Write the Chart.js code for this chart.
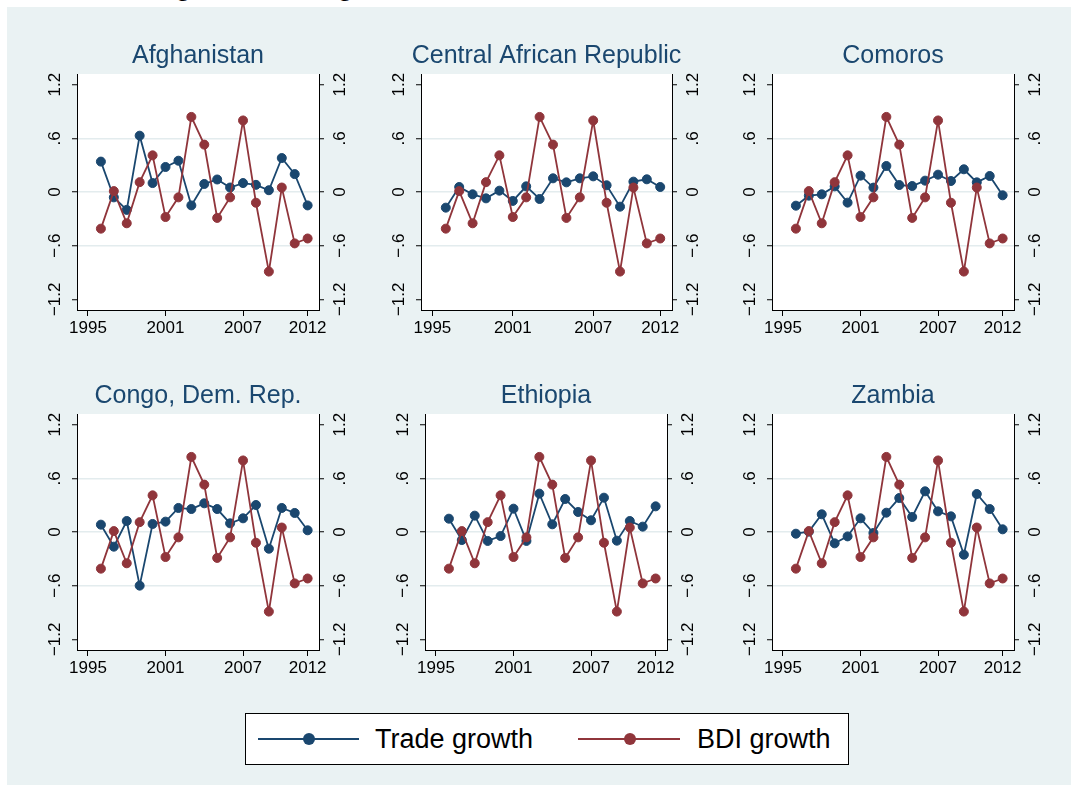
<!DOCTYPE html>
<html>
<head>
<meta charset="utf-8">
<script src="https://cdn.jsdelivr.net/npm/chart.js@4.4.0/dist/chart.umd.min.js"></script>
<style>
  html, body { margin: 0; padding: 0; background: #ffffff; }
  body { width: 1071px; height: 785px; position: relative; overflow: hidden;
         font-family: "Liberation Sans", Arial, sans-serif; }
  #backdrop { position: absolute; left: 7px; top: 7px; width: 1064px; height: 778px; background: #eaf2f3; }
  #suptitle { position: absolute; left: 116px; top: -24px; font: 24px "Liberation Serif", "Times New Roman", serif;
              line-height: 24px; white-space: nowrap; color: #000; }
  canvas.panel { position: absolute; }
  #legend { position: absolute; left: 245px; top: 713px; width: 602px; height: 50px;
            background: #fff; border: 1px solid #000; }
  #legend .ln { position: absolute; height: 2px; top: 24px; }
  #legend .mk { position: absolute; width: 12px; height: 12px; border-radius: 50%; top: 19px; }
  #legend .tx { position: absolute; top: 0; line-height: 50px; font-size: 27px; color: #000; white-space: nowrap; }
</style>
</head>
<body>
<div id="backdrop"></div>
<div id="suptitle">Trade growth and BDI growth</div>
<div id="legend">
  <div class="ln" style="left:12px;width:101px;background:#1a476f"></div>
  <div class="mk" style="left:57px;background:#1a476f"></div>
  <div class="tx" style="left:129px">Trade growth</div>
  <div class="ln" style="left:332px;width:102px;background:#90353b"></div>
  <div class="mk" style="left:378px;background:#90353b"></div>
  <div class="tx" style="left:451px">BDI growth</div>
</div>
<script>
// ---- data -------------------------------------------------------------
const years = [1996, 1997, 1998, 1999, 2000, 2001, 2002, 2003, 2004,
               2005, 2006, 2007, 2008, 2009, 2010, 2011, 2012];

const bdiGrowth = [-0.41, 0.01, -0.35, 0.11, 0.41, -0.28, -0.06, 0.84, 0.53,
                   -0.29, -0.06, 0.80, -0.12, -0.89, 0.05, -0.575, -0.52];

const tradeAfghanistan = [0.34, -0.06, -0.20, 0.63, 0.10, 0.28, 0.35, -0.15, 0.09,
                          0.14, 0.05, 0.10, 0.08, 0.02, 0.38, 0.20, -0.15];
const tradeCentralAfrica = [-0.175, 0.056, -0.026, -0.071, 0.015, -0.10, 0.063, -0.078, 0.153,
                            0.108, 0.153, 0.175, 0.075, -0.164, 0.116, 0.142, 0.056];
const tradeComoros = [-0.153, -0.041, -0.026, 0.063, -0.119, 0.183, 0.049, 0.291, 0.078,
                      0.067, 0.127, 0.194, 0.123, 0.254, 0.108, 0.179, -0.037];
const tradeCongoDR = [0.082, -0.164, 0.123, -0.60, 0.09, 0.116, 0.269, 0.257, 0.321,
                      0.257, 0.097, 0.153, 0.302, -0.187, 0.269, 0.213, 0.019];
const tradeEthiopia = [0.149, -0.09, 0.183, -0.10, -0.045, 0.261, -0.10, 0.429, 0.086,
                       0.369, 0.224, 0.131, 0.384, -0.097, 0.123, 0.06, 0.287];
const tradeZambia = [-0.019, 0.004, 0.198, -0.127, -0.049, 0.153, -0.011, 0.216, 0.38,
                     0.168, 0.455, 0.231, 0.175, -0.254, 0.425, 0.257, 0.03];

const countries = ["Afghanistan", "Central African Republic", "Comoros",
                   "Congo, Dem. Rep.", "Ethiopia", "Zambia"];
const tradeSeries = [tradeAfghanistan, tradeCentralAfrica, tradeComoros,
                     tradeCongoDR, tradeEthiopia, tradeZambia];

const xTickValues = [1995, 2001, 2007, 2012];
const yTickValues = [-1.2, -0.6, 0, 0.6, 1.2];
const yTickLabels = ["\u22121.2", "\u2212.6", "0", ".6", "1.2"];

// ---- layout & style ---------------------------------------------------
const NAVY = "#1a476f";
const MAROON = "#90353b";
const GRID = "#e3ecee";
const SANS = '"Liberation Sans", Arial, sans-serif';

// plot regions of the six panels (page pixels)
const plotBoxes = [
  { left: 77,  right: 319,  top: 74,  bottom: 310 },
  { left: 421, right: 672,  top: 74,  bottom: 310 },
  { left: 772, right: 1014, top: 74,  bottom: 310 },
  { left: 77,  right: 319,  top: 414, bottom: 650 },
  { left: 425, right: 667,  top: 414, bottom: 650 },
  { left: 772, right: 1014, top: 414, bottom: 650 }
];
const SIDE = 50, HEAD = 45, FOOT = 40;

const plotBackground = {
  id: "plotBackground",
  beforeDraw(chart) {
    const a = chart.chartArea, ctx = chart.ctx;
    ctx.save();
    ctx.fillStyle = "#ffffff";
    ctx.fillRect(a.left, a.top, a.right - a.left, a.bottom - a.top);
    ctx.restore();
  }
};

const panelDecor = {
  id: "panelDecor",
  afterDraw(chart, args, opts) {
    const a = chart.chartArea, ctx = chart.ctx;
    ctx.save();
    // panel title
    ctx.font = "25px " + SANS;
    ctx.fillStyle = NAVY;
    ctx.textAlign = "center";
    ctx.textBaseline = "alphabetic";
    ctx.fillText(opts.title, (a.left + a.right) / 2, a.top - 11);
    // vertical tick labels on both y axes
    ctx.font = "17px " + SANS;
    ctx.fillStyle = "#000";
    ctx.textBaseline = "middle";
    [["yL", a.left - 22], ["yR", a.right + 21]].forEach(([id, x]) => {
      const s = chart.scales[id];
      s.ticks.forEach(t => {
        const y = s.getPixelForValue(t.value);
        const label = yTickLabels[yTickValues.indexOf(t.value)];
        ctx.save();
        ctx.translate(x, y);
        ctx.rotate(-Math.PI / 2);
        ctx.fillText(label, 0, 0);
        ctx.restore();
      });
    });
    ctx.restore();
  }
};

function yAxis(position, gridOnArea) {
  return {
    type: "linear",
    position: position,
    min: -1.32,
    max: 1.32,
    afterBuildTicks: s => { s.ticks = yTickValues.map(v => ({ value: v })); },
    afterFit: s => { s.width = SIDE; },
    grid: {
      drawOnChartArea: gridOnArea,
      color: ctx => (ctx.tick && Math.abs(ctx.tick.value) > 1 ? "rgba(0,0,0,0)" : GRID),
      lineWidth: 1.5,
      drawTicks: true,
      tickLength: 5,
      tickColor: "#000",
      tickWidth: 1
    },
    border: { display: true, color: "#000", width: 1 },
    ticks: { display: false }
  };
}

plotBoxes.forEach((box, i) => {
  const cv = document.createElement("canvas");
  cv.className = "panel";
  const w = box.right - box.left + 2 * SIDE;
  const h = box.bottom - box.top + HEAD + FOOT;
  cv.width = w; cv.height = h;
  cv.style.left = (box.left - SIDE) + "px";
  cv.style.top = (box.top - HEAD) + "px";
  cv.style.width = w + "px";
  cv.style.height = h + "px";
  document.body.appendChild(cv);

  new Chart(cv, {
    type: "line",
    data: {
      datasets: [
        {
          label: "Trade growth",
          data: years.map((yr, k) => ({ x: yr, y: tradeSeries[i][k] })),
          borderColor: NAVY, backgroundColor: NAVY,
          pointBackgroundColor: NAVY, pointBorderColor: NAVY,
          borderWidth: 1.8, pointRadius: 4.5, pointBorderWidth: 1,
          tension: 0, yAxisID: "yL", order: 2
        },
        {
          label: "BDI growth",
          data: years.map((yr, k) => ({ x: yr, y: bdiGrowth[k] })),
          borderColor: MAROON, backgroundColor: MAROON,
          pointBackgroundColor: MAROON, pointBorderColor: MAROON,
          borderWidth: 1.8, pointRadius: 4.5, pointBorderWidth: 1,
          tension: 0, yAxisID: "yL", order: 1
        }
      ]
    },
    options: {
      responsive: false,
      animation: false,
      devicePixelRatio: 1,
      layout: { padding: { top: HEAD, left: 0, right: 0, bottom: 0 } },
      plugins: {
        legend: { display: false },
        tooltip: { enabled: false },
        title: { display: false },
        panelDecor: { title: countries[i] }
      },
      scales: {
        x: {
          type: "linear",
          position: "bottom",
          min: 1994.15,
          max: 2012.88,
          afterBuildTicks: s => { s.ticks = xTickValues.map(v => ({ value: v })); },
          afterFit: s => { s.height = FOOT; },
          grid: { drawOnChartArea: false, drawTicks: true, tickLength: 6, tickColor: "#000", tickWidth: 1 },
          border: { display: true, color: "#000", width: 1 },
          ticks: {
            font: { family: SANS, size: 17 },
            color: "#000",
            padding: 2,
            maxRotation: 0,
            minRotation: 0,
            autoSkip: false,
            callback: v => String(v)
          }
        },
        yL: yAxis("left", true),
        yR: yAxis("right", false)
      }
    },
    plugins: [plotBackground, panelDecor]
  });
});
</script>
</body>
</html>
